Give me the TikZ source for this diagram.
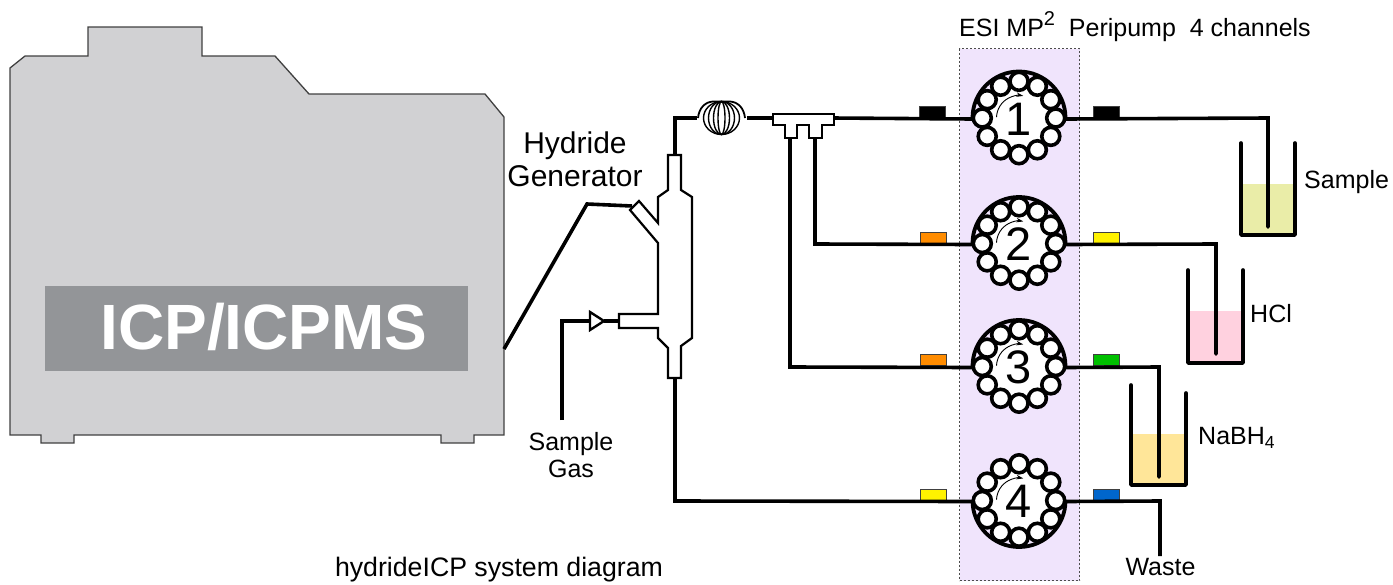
\documentclass[tikz,border=0pt]{standalone}
\usepackage{fontspec}
\setmainfont{Liberation Sans}
\usetikzlibrary{arrows.meta}
\definecolor{icpgray}{HTML}{D1D1D3}
\definecolor{icpband}{HTML}{939598}
\definecolor{pumpbg}{HTML}{F0E4FC}
\definecolor{liqa}{HTML}{EAEDA8}
\definecolor{liqb}{HTML}{FFD1DF}
\definecolor{liqc}{HTML}{FFE699}
\tikzset{
  x=1pt,y=-1pt,
  tube/.style={line width=3.6pt,line join=miter,line cap=butt},
  glass/.style={line width=2.2pt,line join=miter,fill=white},
  beaker/.style={line width=3.6pt,line join=round,line cap=round},
  roller/.style={circle,draw=black,line width=3.6pt,fill=white,minimum size=18pt,inner sep=0pt,outer sep=0pt},
  pumpnode/.style={circle,minimum size=94pt,inner sep=0pt,outer sep=0pt,font=\fontsize{47}{48}\selectfont},
  clipbox/.style={draw=black!75,line width=0.9pt,minimum width=26pt,minimum height=11pt,inner sep=0pt},
  lab/.style={inner sep=0pt,align=center},
  turn/.style={line width=1.4pt},
}
\newcommand{\pumpdraw}[4]{% number, x, y, arc end angle (y axis points down)
  \fill[white] (#2,#3) circle (31);
  \draw[line width=3.8pt] ([shift={(0:46.5)}]#2,#3) arc[start angle=0,end angle=#4,radius=46.5];
  \foreach \a in {0,30,...,330}{
    \node[roller] at ([shift={(\a:36.7)}]#2,#3) {};
  }
  \draw[line width=0.9pt,-{Stealth[length=7pt,width=4.5pt]}] ([shift={(-178:22.5)}]#2,#3) arc[start angle=-178,end angle=-79,radius=22.5];
  \node[pumpnode] (p#1) at (#2,#3+1) {#1};
}
\begin{document}
\begin{tikzpicture}
\useasboundingbox (0,0) rectangle (1393,584);
% ICP
\draw[fill=icpgray,draw=black!75,line width=1.3pt]
 (10,68)--(25,56)--(88,56)--(88,27)--(202,27)--(202,56)--(275,56)--(309,94)--(485,94)--(504,117)--(504,435)
 --(474,435)--(474,443)--(441,443)--(441,435)--(74,435)--(74,443)--(41,443)--(41,435)--(10,435)--cycle;
\node[fill=icpband,minimum width=423pt,minimum height=85pt,inner sep=0pt,text=white,font=\bfseries\fontsize{64}{65}\selectfont] (icp) at (256.5,328.5) {\hspace*{15pt}\raisebox{4pt}{ICP/ICPMS}};
% panel
\node[draw=black!70,dashed,dash pattern=on 2pt off 2pt,line width=0.7pt,fill=pumpbg,minimum width=120pt,minimum height=532pt,inner sep=0pt] (panel) at (1019.5,314.5) {};
\node[lab,anchor=base west,font=\fontsize{25}{28}\selectfont] (title) at (959,36) {ESI MP\raisebox{11pt}{\fontsize{20}{20}\selectfont 2}\ \ Peripump\ \ 4 channels};
% pumps
\pumpdraw{1}{1019}{118}{-180}
\pumpdraw{2}{1019}{243.5}{-180}
\pumpdraw{3}{1019}{366.5}{-180}
\pumpdraw{4}{1019}{500.5}{180}
% beaker liquids
\fill[liqa] (1242,184) rectangle (1294,235);
\fill[liqb] (1189,311) rectangle (1242,363);
\fill[liqc] (1132,434) rectangle (1185,485);
% clips
\node[clipbox,fill=black] (c1) at (932,112) {};
\node[clipbox,fill=black] (c2) at (1106,112) {};
\node[clipbox,fill={rgb,255:red,255;green,140;blue,0}] (c3) at (933,238) {};
\node[clipbox,fill=yellow] (c4) at (1106,238) {};
\node[clipbox,fill={rgb,255:red,255;green,140;blue,0}] (c5) at (933,360) {};
\node[clipbox,fill={rgb,255:red,0;green,192;blue,0}] (c6) at (1106,360) {};
\node[clipbox,fill=yellow] (c7) at (933,495) {};
\node[clipbox,fill={rgb,255:red,0;green,102;blue,204}] (c8) at (1106,495) {};
% ends of dip tubes
\coordinate (d1) at (1268,227);
\coordinate (d2) at (1216,354);
\coordinate (d3) at (1159,477);
\coordinate (w) at (1160,556);
% connectors
\draw[tube,line cap=round] (p1.east)--(1268,118)--(d1);
\draw[tube,line cap=round] (p2.east)--(1216,244)--(d2);
\draw[tube,line cap=round] (p3.east)--(1159,367)--(d3);
\draw[tube] (p4.east)--(1160,501)--(w);
\draw[tube] (p1.west)--(832,118);
\draw[tube] (815,136)--(815,244)--(p2.west);
\draw[tube] (790,136)--(790,367)--(p3.west);
\draw[tube] (675,378)--(675,501)--(p4.west);
\draw[tube] (675,156)--(675,118)--(697,118);
\draw[tube] (747,118)--(775,118);
\draw[tube] (504,349)--(587,204)--(632,206);
\draw[tube] (562,420)--(562,321)--(592,321);
\draw[tube] (604,321)--(620,321);
% coil
\foreach \w in {18,13,8,3.5}{
  \draw[turn] (721.5,118) ellipse (\w pt and 16.5pt);
}
\draw[line width=1.8pt] (698,118) .. controls (699,108) and (705,102) .. (713,101.5) -- (730,101.5) .. controls (738,102) and (744,108) .. (745,118);
% T piece
\draw[glass] (773,114)--(834,114)--(834,125)--(822,125)--(822,138)--(809,138)--(809,125)--(797,125)--(797,138)--(785,138)--(785,125)--(773,125)--cycle;
% generator
\draw[glass] (668,155)--(681,155)--(681,190)--(692,197)--(692,338)--(681,346)--(681,378)--(668,378)--(668,348)--(658,338)--(658,328)--(619,328)--(619,314)--(658,314)--(658,243)--(630,210)--(639,201)--(658,223)--(658,197)--(668,190)--cycle;
% check valve
\draw[line width=2.4pt,fill=white,line join=miter] (590,312)--(604,321)--(590,330)--cycle;
% beakers
\draw[beaker] (1241,143)--(1241,235)--(1295,235)--(1295,143);
\draw[beaker] (1188,270)--(1188,363)--(1243,363)--(1243,270);
\draw[beaker] (1131,385)--(1131,485)--(1186,485)--(1186,393);
% labels
\node[lab,font=\fontsize{30}{33}\selectfont] (hg) at (575,159) {Hydride\\Generator};
\node[lab,font=\fontsize{25}{27}\selectfont] (sg) at (571,455) {Sample\\Gas};
\node[lab,anchor=west,font=\fontsize{25}{28}\selectfont] (s) at (1304,182) {Sample};
\node[lab,anchor=west,font=\fontsize{25}{28}\selectfont] (h) at (1250,314) {HCl};
\node[lab,anchor=west,font=\fontsize{25}{28}\selectfont] (n) at (1198,438) {NaBH\textsubscript{4}};
\node[lab,font=\fontsize{25}{28}\selectfont] (wl) at (1160.5,567) {Waste};
\node[lab,font=\fontsize{26.7}{28}\selectfont] (cap) at (499,570) {hydrideICP system diagram};
\end{tikzpicture}
\end{document}
